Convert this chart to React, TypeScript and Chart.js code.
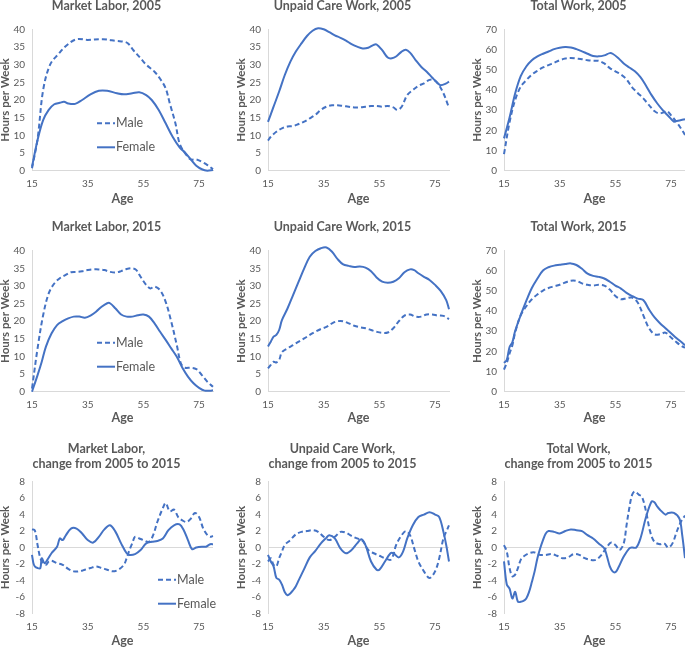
import React, { useEffect, useRef } from 'react';
import { Chart, registerables } from 'chart.js';

Chart.register(...registerables);

const FONT = "Lato, 'Open Sans', sans-serif";
const TEXT = '#595959';
const AXIS = '#D9D9D9';
const BLUE = '#4472C4';

const xTicks = [15, 35, 55, 75];
const seriesLabels = ['Male', 'Female'];

// ---- Market Labor, 2005 ----
const ml05MaleAges = [15, 17, 19, 21.5, 24.5, 27.5, 31, 35, 40.5, 45.5, 48, 49.5, 51.5, 54, 56, 59, 61, 63, 64.5, 66.5, 68, 70, 72, 74, 76, 78, 80];
const ml05Male = [0.7, 9, 22.8, 30, 33, 35.5, 37.2, 37, 37.2, 36.7, 36.5, 36, 34, 31.8, 30, 28, 26, 23.3, 19, 13.4, 7.7, 4.9, 3.2, 3.2, 2.5, 1.6, 0.4];
const ml05FemaleAges = [15, 17, 19, 21, 23, 25, 26.5, 28, 30.5, 33, 36, 39, 42, 45.5, 48, 51, 53.5, 56, 58, 60.5, 63, 65.5, 68, 70, 72, 74, 76, 78, 80];
const ml05Female = [1.1, 8.7, 14.3, 17.2, 18.8, 19.2, 19.5, 19, 18.9, 20, 21.6, 22.6, 22.6, 21.9, 21.6, 21.9, 22.2, 21.4, 20, 17.2, 13.4, 9.6, 6.6, 5.1, 3.2, 1.4, 0.4, 0, 0.2];

// ---- Unpaid Care Work, 2005 ----
const uc05MaleAges = [15, 16, 18, 20, 22, 24, 26, 28, 30, 32, 34, 36, 38, 40, 42, 44, 46, 48, 50, 52, 54, 56, 58, 60, 61.5, 63, 65, 67, 69, 71, 73, 74.5, 76, 78, 80];
const uc05Male = [8.5, 9.6, 11, 12, 12.5, 12.6, 13.2, 13.9, 14.8, 15.8, 17.2, 18.1, 18.5, 18.5, 18.3, 18.1, 17.9, 17.9, 18.1, 18.3, 18.3, 18.1, 18.3, 17.9, 17.2, 18.1, 21.4, 22.8, 24, 24.7, 25.7, 25.7, 24.7, 21.9, 17.8];
const uc05FemaleAges = [15, 17, 19, 21, 23, 25, 27, 29, 31, 33, 35, 37, 39, 41, 43, 45, 47, 49, 51, 53, 54, 56, 58, 59.5, 61, 63, 64.5, 66, 68, 70, 72, 74, 76, 77, 79, 80];
const uc05Female = [13.8, 18.1, 22.4, 27, 30.8, 33.7, 36, 38.1, 39.6, 40.3, 40, 39.2, 38.3, 37.6, 36.8, 35.8, 35.1, 34.6, 34.8, 35.6, 35.7, 34.1, 32, 31.8, 32.3, 33.7, 34.2, 33.4, 31.3, 29.4, 28, 26.3, 24.7, 24.2, 24.7, 25.2];

// ---- Total Work, 2005 ----
const tw05MaleAges = [15, 17, 19, 21, 23, 25, 27, 29, 31, 33, 35, 37, 39, 41, 43, 45, 47, 49, 51, 53, 55, 57, 59, 61, 63, 65, 67, 69, 70.5, 72, 73.5, 75, 77, 79, 80];
const tw05Male = [8.2, 24, 35, 41.6, 44.8, 47.6, 49.5, 51.1, 52.3, 53.4, 54.7, 55.5, 55.8, 55.5, 55.2, 54.7, 54.4, 54.4, 53.1, 50.8, 49.2, 47.6, 45.2, 41.3, 38.5, 35.8, 32.6, 29.5, 28.4, 28.7, 29.5, 27.4, 24, 20, 17.7];
const tw05FemaleAges = [15, 17, 19, 21, 23, 25, 27, 29, 31, 33, 35, 37, 39, 41, 43, 45, 47, 49, 51, 53, 54, 56, 58, 60, 62, 64, 66, 68, 70, 72, 74, 76, 77, 79, 80];
const tw05Female = [16, 26.3, 38.2, 46.8, 51.6, 54.7, 56.6, 57.9, 59, 60.2, 60.9, 61.2, 61, 60.2, 59.1, 57.9, 56.8, 56.6, 57.1, 58.2, 57.9, 55.8, 53.1, 51.1, 49.2, 46.3, 42.1, 37.4, 33.4, 30, 27.1, 24.3, 24.6, 25.2, 25.5];

// ---- Market Labor, 2015 ----
const ml15MaleAges = [15, 17, 19, 21, 23, 25, 27, 29, 31, 33, 35, 37, 39, 41, 43, 45, 47, 49, 51, 52.5, 54, 56, 57.5, 59, 61, 63, 65, 67, 68.5, 70, 72, 74, 76, 78, 80];
const ml15Male = [0.9, 12.3, 21.7, 27.9, 30.7, 32.2, 33.1, 33.9, 34, 34.2, 34.5, 34.7, 34.7, 34.5, 34, 33.8, 34.2, 34.8, 35, 34.5, 32.6, 30.3, 29.3, 29.8, 28.8, 25.5, 19.9, 13.2, 8, 6.8, 6.8, 6.4, 4.7, 2.8, 1.4];
const ml15FemaleAges = [15, 17, 18.5, 20, 22, 24, 26, 28, 30, 32, 34, 36, 38, 40, 42, 43, 45, 47, 49, 51, 53, 55, 57, 59, 61, 63, 65, 67, 69, 71, 73, 75, 77, 79, 80];
const ml15Female = [0, 4.7, 8.5, 12.8, 16.5, 18.9, 20, 20.8, 21.3, 21.3, 21, 21.6, 22.7, 24.1, 25.1, 25.1, 23.6, 21.9, 21.3, 21.3, 21.7, 21.9, 21.3, 19.4, 17, 14.7, 12.3, 9.9, 6.8, 4.3, 2.4, 1.1, 0.3, 0.3, 0.4];

// ---- Unpaid Care Work, 2015 ----
const uc15MaleAges = [15, 16, 17, 18, 19, 20, 22, 24, 26, 28, 30, 32, 34, 36, 38, 40, 42, 44, 46, 48, 50, 52, 54, 56, 58, 60, 62, 64, 66, 68, 70, 72, 74, 76, 78, 80];
const uc15Male = [6.6, 7.6, 8.5, 8.3, 9, 11.2, 12.3, 13.2, 14.2, 15.1, 16.1, 17, 17.8, 18.4, 19.4, 20, 20, 19.4, 18.7, 18.3, 18, 17.5, 17, 16.7, 16.8, 18, 20, 21.6, 21.9, 21.3, 21.3, 21.9, 21.9, 21.6, 21.5, 20.6];
const uc15FemaleAges = [15, 16, 17, 18, 19, 20, 22, 24, 26, 28, 30, 32, 34, 36, 38, 40, 42, 44, 46, 48, 50, 52, 54, 56, 58, 60, 62, 64, 66, 67.5, 69, 71, 73, 75, 77, 79, 80];
const uc15Female = [12.8, 14.2, 15.6, 16.1, 17.5, 20.3, 23.6, 27.4, 31.2, 35, 38.3, 39.9, 40.7, 40.9, 39.7, 37.6, 36.1, 35.7, 35.4, 35.5, 35.2, 34.2, 32.4, 31.2, 30.9, 31.2, 32.2, 33.9, 34.7, 34.5, 33.6, 32.6, 31.7, 30.3, 28.6, 26, 23.4];

// ---- Total Work, 2015 ----
const tw15MaleAges = [15, 16, 17, 18, 19, 21, 23, 25, 27, 29, 31, 33, 35, 37, 39, 41, 43, 45, 47, 49, 51, 53, 55, 57, 59, 61, 63, 65, 67, 69, 71, 73, 75, 77, 79, 80];
const tw15Male = [11, 14.3, 19, 23, 29.3, 38, 42.4, 45.9, 48.3, 50.2, 51.5, 52.3, 53.1, 54.2, 55.1, 55, 53.8, 53.1, 52.7, 53.1, 52.7, 50.7, 47.5, 45.9, 46.4, 46.7, 44.3, 38, 31.7, 28.5, 28.5, 29.3, 26.9, 24.5, 22.5, 21.9];
const tw15FemaleAges = [15, 16, 17, 18, 19, 21, 23, 25, 27, 29, 31, 33, 35, 37, 39, 41, 43, 45, 47, 49, 51, 53, 55, 57, 59, 61, 63, 65, 67, 69, 71, 73, 75, 77, 79, 80];
const tw15Female = [14.3, 15.8, 22.2, 24.5, 30.1, 38, 45.1, 51.5, 56.2, 60.2, 61.8, 62.6, 63, 63.4, 63.7, 62.9, 61, 58.6, 57.5, 57, 56.2, 54.6, 52.7, 51.2, 49.1, 47.5, 46.2, 45.5, 41, 37, 34, 31.5, 29, 26.5, 24.3, 23];

// ---- Market Labor, change ----
const mlChMaleAges = [15, 16, 17, 18, 19, 20, 21, 22, 24, 26, 28, 30, 32, 34, 36, 38, 40, 42, 44, 46, 48, 49, 50, 51, 52, 53.5, 55, 57, 58.5, 60, 62, 63, 64.5, 66, 67.5, 69, 70.5, 72, 73.5, 75, 76.5, 78, 79, 80];
const mlChMale = [2.2, 2.1, 0.3, -1.3, -1.9, -2.1, -1.7, -1.6, -1.9, -2.1, -2.6, -2.9, -2.9, -2.7, -2.5, -2.3, -2.5, -2.7, -2.9, -2.7, -2.1, -1.3, -0.3, 0.5, 1.3, 1.1, 0.9, 0.7, 1.5, 3.1, 4.8, 5.4, 4.4, 4.6, 3.7, 3.3, 3.1, 3.5, 4.2, 3.7, 2.3, 1.5, 1.3, 1.4];
const mlChFemaleAges = [15, 15.5, 16, 17, 18, 18.5, 19.5, 20.5, 22, 24, 25, 26, 27, 29, 31, 33, 35, 37, 39, 41, 43, 45, 47, 49, 50, 52, 54, 56, 58, 60, 62, 64, 66, 68, 69.5, 71, 72.5, 74, 76, 77.5, 79, 80];
const mlChFemale = [-0.9, -1.9, -2.3, -2.5, -2.5, -1.3, -1.9, -1.5, -0.7, 0.1, 1.1, 0.9, 1.4, 2.3, 2.3, 1.7, 0.9, 0.6, 1.3, 2.2, 2.7, 1.9, 0.5, -0.7, -0.9, -0.8, -0.3, 0.5, 0.7, 0.8, 1.1, 2.1, 2.7, 2.8, 2.1, 0.9, -0.2, 0, 0.1, 0.1, 0.4, 0.4];

// ---- Unpaid Care Work, change ----
const ucChMaleAges = [15, 16, 17, 18, 19, 20, 21, 23, 25, 27, 29, 31, 33, 35, 37, 39, 41, 43, 45, 47, 49, 51, 53, 55, 57, 59, 60, 61, 63, 64.5, 66, 67.5, 69, 71, 73, 75, 76.5, 78, 79.5, 80];
const ucChMale = [-1.7, -1.3, -2.1, -2.3, -1.3, -0.5, 0.3, 0.9, 1.6, 1.9, 2, 2.1, 1.9, 1.3, 0.9, 1.3, 1.9, 1.8, 1.4, 1.1, 0.8, -0.3, -0.7, -1, -1.3, -1.5, -0.9, 0.3, 1.5, 2, 1.5, -0.1, -1.7, -2.9, -3.7, -2.9, -1.3, 1.1, 2.3, 2.7];
const ucChFemaleAges = [15, 16, 17, 18, 19, 20, 21, 22, 23, 24, 25, 26, 28, 30, 32, 34, 36, 37, 39, 41, 43, 45, 47, 48.5, 50, 52, 54, 55, 57, 59, 60, 62, 63.5, 65, 67, 69, 71, 73, 75, 76.5, 78, 79, 80];
const ucChFemale = [-0.9, -1.7, -2.3, -3.7, -3.9, -4.5, -5.4, -5.8, -5.6, -5.2, -4.7, -4, -2.6, -1.2, -0.4, 0.5, 1.2, 1.5, 1.1, -0.1, -0.7, -0.3, 0.5, 1, 0.3, -1.7, -2.7, -2.7, -1.7, -0.7, -0.7, -1.2, -0.5, 1.1, 2.7, 3.7, 4, 4.3, 4, 3.7, 1.9, 0.3, -1.7];

// ---- Total Work, change ----
const twChMaleAges = [15, 16, 17, 18, 19, 20, 21, 22, 24, 26, 28, 30, 32, 34, 36, 38, 40, 42, 44, 46, 48, 50, 52, 53.5, 55, 56.5, 58, 59, 60, 61, 62, 63.5, 64.5, 66, 67.5, 69, 71, 72.5, 74, 75.5, 77, 78.5, 80];
const twChMale = [0.3, -0.5, -2.5, -3.5, -3.3, -2.5, -1.5, -1.1, -0.7, -0.6, -0.9, -0.9, -0.8, -1, -1.3, -1.2, -0.8, -0.9, -1.3, -1.5, -1.5, -0.9, 0.1, 0.6, 0.3, -0.3, 0.5, 2.7, 4.8, 6.4, 6.8, 6.4, 6.2, 4.4, 1.9, 0.7, 0.4, 0.5, 0, 0.5, 1.9, 3.1, 3.9];
const twChFemaleAges = [15, 16, 17, 18, 19, 20, 21, 22, 23, 24, 25, 26, 27, 28, 29, 30, 31, 33, 35, 37, 39, 41, 43, 45, 47, 49, 51, 52, 53, 54, 55, 56, 58, 60, 61, 62.5, 64, 66, 68, 69, 70, 71, 73, 74, 76, 78, 79, 80];
const twChFemale = [-1.7, -4.5, -5, -6.2, -5.4, -6.6, -6.6, -6.5, -6.2, -5.4, -4.2, -2.9, -1.3, -0.1, 0.9, 1.7, 2, 1.9, 1.7, 2, 2.2, 2.1, 2, 1.5, 1.1, 0.5, -0.1, -1.1, -2.3, -2.9, -3, -2.5, -1.1, -0.1, 0, 0, 1.1, 3.7, 5.6, 5.5, 5, 4.6, 4, 4.2, 4.2, 3.5, 1.5, -1.3];

type Series = { ages: number[]; vals: number[] };
type Panel = {
  title: string | string[];
  male: Series;
  female: Series;
  yMin: number;
  yMax: number;
  yStep: number;
  row: number;
  col: number;
  legend?: { dx: number; dy: number };
};

const panels: Panel[] = [
  { title: 'Market Labor, 2005', male: { ages: ml05MaleAges, vals: ml05Male }, female: { ages: ml05FemaleAges, vals: ml05Female }, yMin: 0, yMax: 40, yStep: 5, row: 0, col: 0, legend: { dx: 65, dy: 94 } },
  { title: 'Unpaid Care Work, 2005', male: { ages: uc05MaleAges, vals: uc05Male }, female: { ages: uc05FemaleAges, vals: uc05Female }, yMin: 0, yMax: 40, yStep: 5, row: 0, col: 1 },
  { title: 'Total Work, 2005', male: { ages: tw05MaleAges, vals: tw05Male }, female: { ages: tw05FemaleAges, vals: tw05Female }, yMin: 0, yMax: 70, yStep: 10, row: 0, col: 2 },
  { title: 'Market Labor, 2015', male: { ages: ml15MaleAges, vals: ml15Male }, female: { ages: ml15FemaleAges, vals: ml15Female }, yMin: 0, yMax: 40, yStep: 5, row: 1, col: 0, legend: { dx: 65, dy: 92 } },
  { title: 'Unpaid Care Work, 2015', male: { ages: uc15MaleAges, vals: uc15Male }, female: { ages: uc15FemaleAges, vals: uc15Female }, yMin: 0, yMax: 40, yStep: 5, row: 1, col: 1 },
  { title: 'Total Work, 2015', male: { ages: tw15MaleAges, vals: tw15Male }, female: { ages: tw15FemaleAges, vals: tw15Female }, yMin: 0, yMax: 70, yStep: 10, row: 1, col: 2 },
  { title: ['Market Labor,', 'change from 2005 to 2015'], male: { ages: mlChMaleAges, vals: mlChMale }, female: { ages: mlChFemaleAges, vals: mlChFemale }, yMin: -8, yMax: 8, yStep: 2, row: 2, col: 0, legend: { dx: 126, dy: 98 } },
  { title: ['Unpaid Care Work,', 'change from 2005 to 2015'], male: { ages: ucChMaleAges, vals: ucChMale }, female: { ages: ucChFemaleAges, vals: ucChFemale }, yMin: -8, yMax: 8, yStep: 2, row: 2, col: 1 },
  { title: ['Total Work,', 'change from 2005 to 2015'], male: { ages: twChMaleAges, vals: twChMale }, female: { ages: twChFemaleAges, vals: twChFemale }, yMin: -8, yMax: 8, yStep: 2, row: 2, col: 2 },
];

const ROWS = [
  { top: -2, height: 207, plotTop: 31.3, plotBottom: 172.7, titlePadTop: 0 },
  { top: 205, height: 219, plotTop: 45.7, plotBottom: 186.7, titlePadTop: 14.2 },
  { top: 424, height: 223, plotTop: 57.7, plotBottom: 189.3, titlePadTop: 17.5 },
];
const COL_LEFT = [0, 236, 472];
const CANVAS_W = 236;
const PLOT_LEFT = 32;
const PLOT_W = 181;
const TITLE_SIZE = 12.5;
const TITLE_LH = 15;

const inlineLegend = {
  id: 'inlineLegend',
  afterDatasetsDraw(chart: any, _args: any, opts: any) {
    if (!opts || !opts.show) return;
    const { ctx, chartArea } = chart;
    const x0 = chartArea.left + opts.dx;
    chart.data.datasets.forEach((ds: any, i: number) => {
      const y = chartArea.top + opts.dy + i * 24;
      ctx.save();
      ctx.strokeStyle = ds.borderColor;
      ctx.lineWidth = ds.borderWidth;
      ctx.setLineDash(ds.borderDash || []);
      ctx.beginPath();
      ctx.moveTo(x0, y);
      ctx.lineTo(x0 + 18, y);
      ctx.stroke();
      ctx.setLineDash([]);
      ctx.fillStyle = TEXT;
      ctx.font = `12.5px ${FONT}`;
      ctx.textBaseline = 'middle';
      ctx.textAlign = 'left';
      ctx.fillText(ds.label, x0 + 19, y);
      ctx.restore();
    });
  },
};

function PanelChart({ p }: { p: Panel }) {
  const ref = useRef<HTMLCanvasElement | null>(null);
  const row = ROWS[p.row];
  useEffect(() => {
    const lines = Array.isArray(p.title) ? p.title.length : 1;
    const titlePadBottom = row.plotTop - row.titlePadTop - lines * TITLE_LH;
    const xAxisH = row.height - row.plotBottom;
    const zero = p.yMin < 0;
    const mk = (s: Series) => s.ages.map((a, i) => ({ x: a, y: s.vals[i] }));
    const chart = new Chart(ref.current as HTMLCanvasElement, {
      type: 'line',
      data: {
        datasets: [
          { label: seriesLabels[0], data: mk(p.male), borderColor: BLUE, borderWidth: 2, borderDash: [5, 3], pointRadius: 0, tension: 0.35, fill: false, clip: false },
          { label: seriesLabels[1], data: mk(p.female), borderColor: BLUE, borderWidth: 2, pointRadius: 0, tension: 0.35, fill: false, clip: false },
        ],
      },
      plugins: [inlineLegend],
      options: {
        animation: false,
        responsive: false,
        events: [],
        layout: { padding: { left: 0, top: 0, bottom: 0, right: CANVAS_W - PLOT_LEFT - PLOT_W } },
        plugins: {
          legend: { display: false },
          tooltip: { enabled: false },
          title: {
            display: true,
            text: p.title,
            color: TEXT,
            font: { family: FONT, size: TITLE_SIZE, weight: 'bold', lineHeight: TITLE_LH / TITLE_SIZE },
            padding: { top: row.titlePadTop, bottom: titlePadBottom },
          },
          inlineLegend: p.legend ? { show: true, dx: p.legend.dx, dy: p.legend.dy } : { show: false },
        } as any,
        scales: {
          x: {
            type: 'linear',
            min: 15,
            max: 80,
            afterBuildTicks: (s: any) => {
              s.ticks = xTicks.map((v) => ({ value: v }));
            },
            afterFit: (s: any) => {
              s.height = xAxisH;
            },
            ticks: { color: TEXT, font: { family: FONT, size: 10 }, padding: 7, maxRotation: 0, autoSkip: false },
            grid: { display: false, drawTicks: false },
            border: { display: !zero, color: AXIS, width: 1 },
            title: { display: true, text: 'Age', color: TEXT, font: { family: FONT, size: 12.5, weight: 'bold', lineHeight: 1 }, padding: 0 },
          },
          y: {
            min: p.yMin,
            max: p.yMax,
            afterFit: (s: any) => {
              s.width = PLOT_LEFT;
            },
            ticks: { stepSize: p.yStep, color: TEXT, font: { family: FONT, size: 10 }, padding: 7 },
            grid: {
              display: zero,
              drawTicks: false,
              color: (c: any) => (c.tick && c.tick.value === 0 ? AXIS : 'rgba(0,0,0,0)'),
            },
            border: { display: true, color: AXIS, width: 1 },
            title: { display: true, text: 'Hours per Week', color: TEXT, font: { family: FONT, size: 11.5, weight: 'bold', lineHeight: 1 }, padding: 0 },
          },
        },
      } as any,
    });
    return () => chart.destroy();
  }, [p]);
  return (
    <canvas
      ref={ref}
      width={CANVAS_W}
      height={row.height}
      style={{ position: 'absolute', left: COL_LEFT[p.col], top: row.top, width: CANVAS_W, height: row.height }}
    />
  );
}

export default function App() {
  return (
    <div style={{ position: 'absolute', left: 0, top: 0, width: 685, height: 647, overflow: 'hidden', background: '#fff' }}>
      {panels.map((p, i) => (
        <PanelChart key={i} p={p} />
      ))}
    </div>
  );
}
